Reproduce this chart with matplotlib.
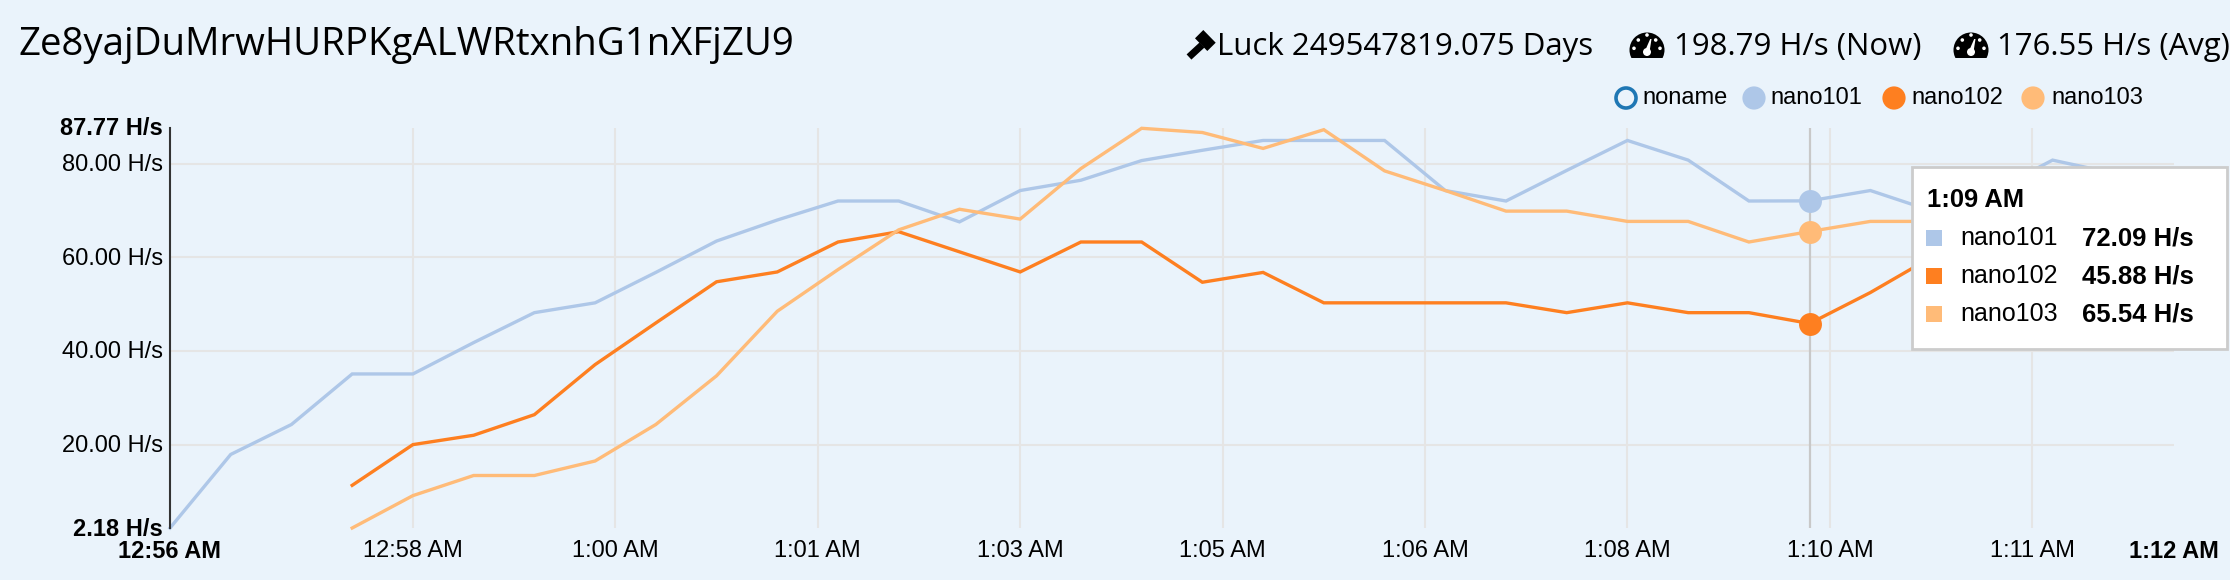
import matplotlib
matplotlib.use("Agg")
import matplotlib.pyplot as plt
from matplotlib.patches import Rectangle, Circle, Polygon

# sampled every 30 s, starting at 12:56 AM
seconds = [i * 30 for i in range(34)]
nano101 = [2.18, 17.9, 24.3, 35.1, 35.1, 41.8, 48.2, 50.3, 56.8, 63.5, 68.0, 72.06, 72.06, 67.6, 74.3, 76.5, 80.7,
           82.9, 85.0, 85.0, 85.0, 74.3, 72.06, 78.6, 85.0, 80.8, 72.06, 72.09, 74.3, 70.0, 74.0, 80.8, 78.0, 78.0]
nano102 = [None, None, None, 11.3, 20.0, 22.0, 26.4, 37.1, 46.0, 54.8, 56.9, 63.3, 65.5, 61.2, 56.9, 63.3, 63.3,
           54.7, 56.8, 50.3, 50.3, 50.3, 50.3, 48.2, 50.3, 48.2, 48.2, 45.88, 52.5, 60.0, 63.0, 65.0, 63.0, 63.0]
nano103 = [None, None, None, 2.18, 9.1, 13.4, 13.4, 16.5, 24.3, 34.7, 48.5, 57.4, 65.9, 70.3, 68.2, 79.0, 87.6,
           86.7, 83.3, 87.3, 78.5, 74.3, 69.9, 69.9, 67.7, 67.7, 63.3, 65.54, 67.7, 67.7, 69.0, 68.0, 67.0, 67.0]

y_ticks = [20, 40, 60, 80]
x_ticks = [120, 220, 320, 420, 520, 620, 720, 820, 920]
x_labels = ["12:58 AM", "1:00 AM", "1:01 AM", "1:03 AM", "1:05 AM", "1:06 AM", "1:08 AM", "1:10 AM", "1:11 AM"]
y_min, y_max = 2.18, 87.77
hover_idx = 27

BG = "#eaf3fb"
C101, C102, C103, C_NONAME = "#aec7e8", "#fe7f20", "#ffbb78", "#1f77b4"
SANS = "Liberation Sans"
HEAD = "Open Sans"

W, H = 2230, 580
fig = plt.figure(figsize=(W / 100, H / 100), dpi=100, facecolor=BG)

# chart area, pixels from the reference
L, R, T, B = 170, 2174, 127.5, 528
ax = fig.add_axes([L / W, 1 - B / H, (R - L) / W, (B - T) / H], facecolor=BG)
ax.set_xlim(seconds[0], seconds[-1])
ax.set_ylim(y_min, y_max)
for s in ["top", "right", "bottom"]:
    ax.spines[s].set_visible(False)
ax.spines["left"].set_color("#333333")
ax.spines["left"].set_linewidth(1.5)
ax.set_xticks(x_ticks)
ax.set_yticks(y_ticks)
ax.set_xticklabels([])
ax.set_yticklabels([])
ax.tick_params(length=0)
ax.grid(True, color="#e5e5e5", linewidth=1.5)
ax.set_axisbelow(True)


def clean(vals):
    return [float("nan") if v is None else v for v in vals]


ax.axvline(seconds[hover_idx], color="#c8c8c8", linewidth=1.6, zorder=1.5)
for vals, col in [(nano101, C101), (nano102, C102), (nano103, C103)]:
    ax.plot(seconds, clean(vals), color=col, linewidth=2.4, clip_on=False, zorder=2, solid_joinstyle="miter")
    ax.plot([seconds[hover_idx]], [vals[hover_idx]], "o", color=col, markersize=16.5, mew=0, clip_on=False, zorder=3)

# axis labels
tr_y = ax.get_yaxis_transform()
tr_x = ax.get_xaxis_transform()
for v in y_ticks:
    ax.text(-0.0035, v - 0.25, f"{v:.2f} H/s", transform=tr_y, ha="right", va="center", family=SANS, fontsize=17,
            color="black")
ax.text(-0.0035, y_max - 0.25, f"{y_max:.2f} H/s", transform=tr_y, ha="right", va="center", family=SANS, fontsize=17,
        fontweight="bold", color="black", clip_on=False)
ax.text(-0.0035, y_min - 0.25, f"{y_min:.2f} H/s", transform=tr_y, ha="right", va="center", family=SANS, fontsize=17,
        fontweight="bold", color="black", clip_on=False)
for x, lab in zip(x_ticks, x_labels):
    ax.text(x, -0.058, lab, transform=tr_x, ha="center", va="center", family=SANS, fontsize=17, color="black")
ax.text(seconds[0], -0.058, "12:56 AM", transform=tr_x, ha="center", va="center", family=SANS, fontsize=17,
        fontweight="bold", color="black")
ax.text(seconds[-1], -0.058, "1:12 AM", transform=tr_x, ha="center", va="center", family=SANS, fontsize=17,
        fontweight="bold", color="black")

# overlay in pixel coords for header, legend and tooltip
ov = fig.add_axes([0, 0, 1, 1], facecolor="none", zorder=5)
ov.set_xlim(0, W)
ov.set_ylim(H, 0)
ov.axis("off")

ov.text(18, 55, "Ze8yajDuMrwHURPKgALWRtxnhG1nXFjZU9", family=HEAD, fontsize=27.6, va="baseline", color="black")
ov.text(1217, 55, "Luck 249547819.075 Days", family=HEAD, fontsize=22.5, va="baseline", color="black")
ov.text(1674, 55, "198.79 H/s (Now)", family=HEAD, fontsize=22.4, va="baseline", color="black")
ov.text(1997, 55, "176.55 H/s (Avg)", family=HEAD, fontsize=22.4, va="baseline", color="black")


def gauge(cx):
    disc = Circle((cx, 50), 17.5, color="black", lw=0)
    ov.add_patch(disc)
    disc.set_clip_path(Rectangle((cx - 20, 28), 40, 30, transform=ov.transData))
    ov.add_patch(Polygon([(cx - 2.5, 52), (cx + 2.5, 52), (cx + 4.5, 39), (cx + 3.2, 39)], color="white", lw=0))
    ov.add_patch(Circle((cx, 52), 4, color="white", lw=0))
    for dx, yy in [(-13, 48.3), (-8.7, 40), (0, 35), (8.7, 40), (13, 48.3)]:
        ov.add_patch(Circle((cx + dx, yy), 1.8, color="white", lw=0))


gauge(1647)
gauge(1971)
# gavel
ov.add_patch(Polygon([(1203.3, 30), (1215.7, 42.7), (1207.3, 51), (1195, 38.3)], color="black", lw=0))
ov.add_patch(Polygon([(1204.4, 47.6), (1199.6, 42.4), (1186.6, 54.4), (1191.4, 59.6)], color="black", lw=0))

# legend
leg_names = ["noname", "nano101", "nano102", "nano103"]
leg_circle = [1626, 1754, 1894, 2033]
leg_text = [1642, 1770, 1911, 2051]
for name, cx, tx, col in zip(leg_names, leg_circle, leg_text, [C_NONAME, C101, C102, C103]):
    if name == "noname":
        ov.add_patch(Circle((cx, 98), 10, facecolor="none", edgecolor=col, lw=2.6))
    else:
        ov.add_patch(Circle((cx, 98), 11.6, color=col, lw=0))
    ov.text(tx, 98, name, family=SANS, fontsize=17, va="center", color="black")

# tooltip
ov.add_patch(Rectangle((1912, 167), 315, 182, facecolor="white", edgecolor="#cccccc", lw=2))
ov.text(1927, 200, "1:09 AM", family=SANS, fontsize=18.4, fontweight="bold", va="center", color="black")
tip_rows = [("nano101", nano101, C101, 238), ("nano102", nano102, C102, 276), ("nano103", nano103, C103, 314)]
for name, vals, col, yy in tip_rows:
    ov.add_patch(Rectangle((1926, yy - 8), 16, 16, color=col, lw=0))
    ov.text(1960, yy, name, family=SANS, fontsize=18, va="center", color="black")
    ov.text(2082, yy, f"{vals[hover_idx]:.2f} H/s", family=SANS, fontsize=18.5, fontweight="bold", va="center",
            color="black")

fig.savefig("out.png", dpi=100, facecolor=BG)
